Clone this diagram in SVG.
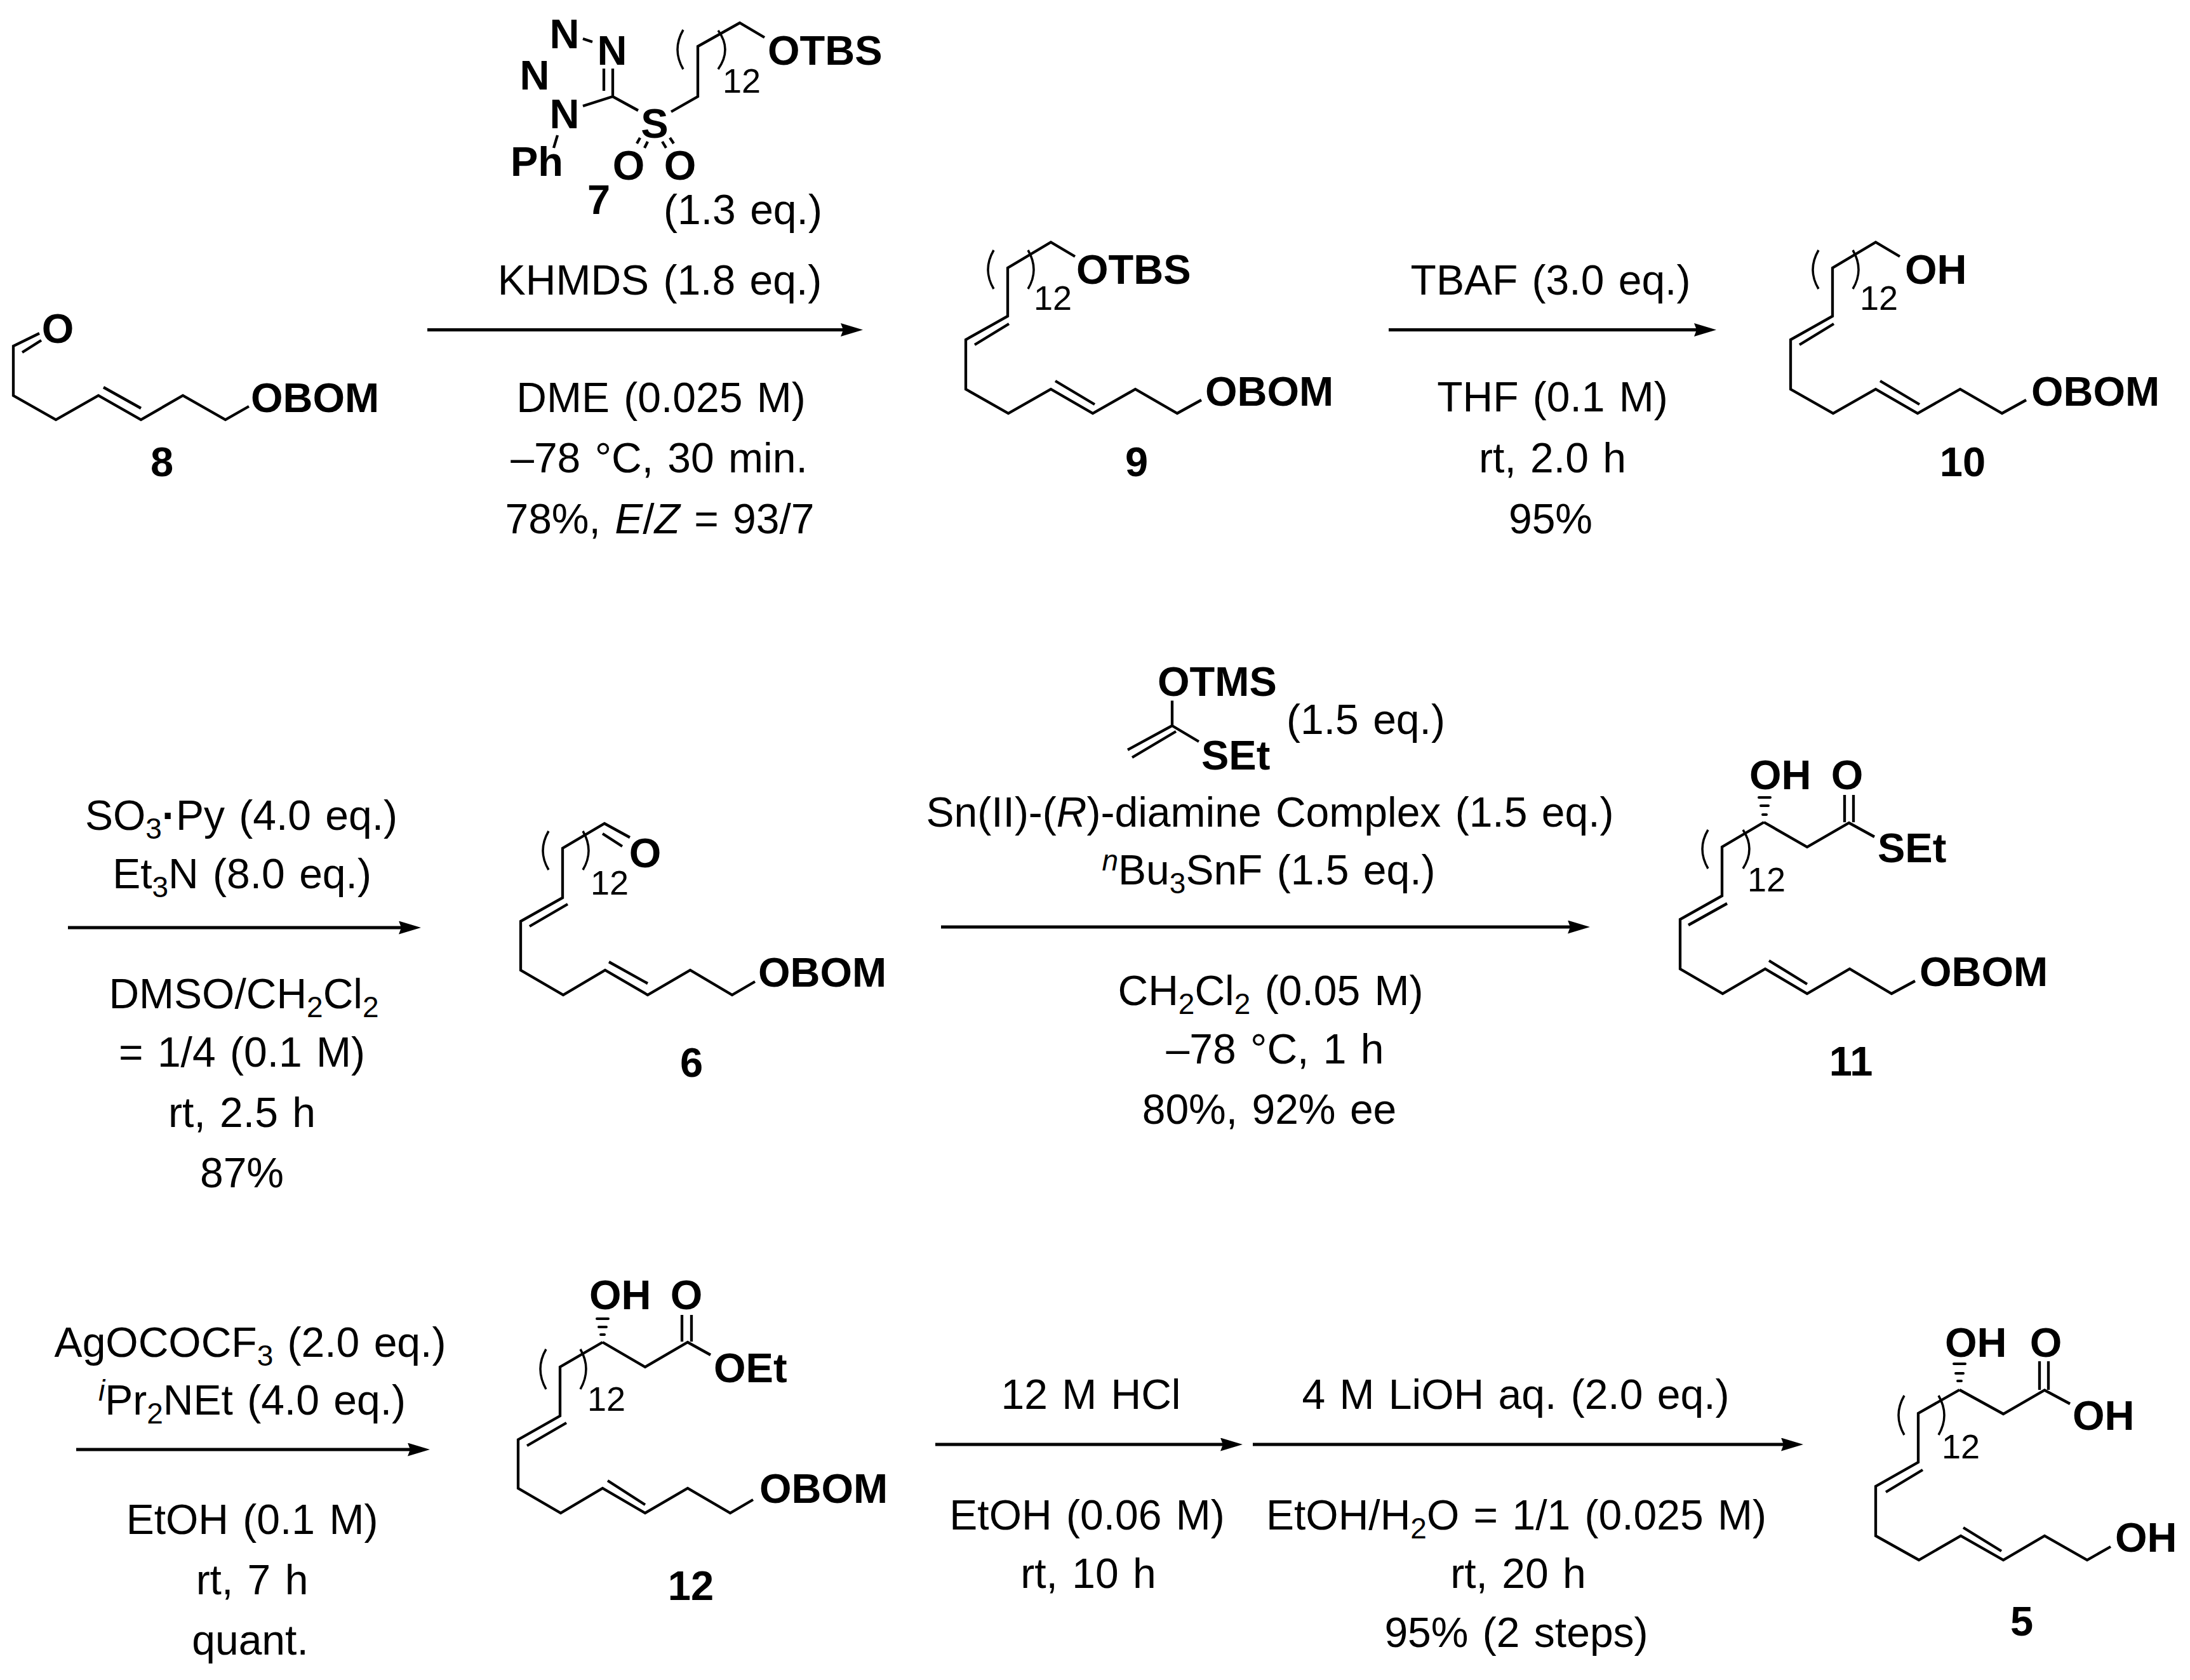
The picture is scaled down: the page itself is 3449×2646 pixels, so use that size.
<svg xmlns="http://www.w3.org/2000/svg" width="3449" height="2646" viewBox="0 0 3449 2646">
<style>
text{font-family:"Liberation Sans",Arial,sans-serif;fill:#000}
.t{font-size:66px;text-anchor:middle;word-spacing:4px}
.l{font-size:65px;font-weight:700;text-anchor:start}
.c{font-size:65px;font-weight:700;text-anchor:middle}
.n{font-size:54px;text-anchor:start}
.b{fill:none;stroke:#000;stroke-width:4.3;stroke-linejoin:miter}
.d{fill:none;stroke:#000;stroke-width:4;stroke-linecap:round}
.p{fill:none;stroke:#000;stroke-width:3.5}
.a{stroke:#000;stroke-width:5;fill:none;marker-end:url(#h)}
.u{font-size:46px}
.i{font-style:italic}
</style>
<defs>
<marker id="h" markerUnits="userSpaceOnUse" markerWidth="36" markerHeight="21" refX="25" refY="10.5" orient="auto"><path d="M35,10.5L0,0L4,10.5L0,21Z" fill="#000"/></marker>
</defs>
<g id="connectors">
<line class="a" x1="673" y1="519.5" x2="1349" y2="519.5"/>
<line class="a" x1="2187" y1="519.5" x2="2693" y2="519.5"/>
<line class="a" x1="107" y1="1461" x2="653" y2="1461"/>
<line class="a" x1="1482" y1="1460" x2="2494" y2="1460"/>
<line class="a" x1="120" y1="2283" x2="667" y2="2283"/>
<line class="a" x1="1473" y1="2275" x2="1947" y2="2275"/>
<line class="a" x1="1973" y1="2275" x2="2830" y2="2275"/>
</g>
<g id="compound-8">
<path class="b" d="M62,525L21,545V623L88,661L155,623L222,661L288,623L355,661L392,640M35,555L65,536M163,610L222,643"/>
<text class="c" x="91" y="540">O</text><text class="l" x="395" y="649">OBOM</text><text class="c" x="255" y="750">8</text>
</g>
<g id="compound-7">
<path class="b" d="M918,61L933,66M951,108V143M965,108V152M918,167L965,152L1005,174M1057,176L1099,152V73L1165,36L1204,59M878,213L872,233M1008,217L1003,226M1020,223L1015,233M1043,223L1049,233M1055,217L1061,226"/>
<path class="p" d="M1076,47Q1058,78 1076,109M1131,48Q1153,78 1131,109"/>
<text class="c" x="889" y="76">N</text><text class="c" x="964" y="102">N</text><text class="c" x="842" y="141">N</text><text class="c" x="889" y="202">N</text>
<text class="l" x="804" y="277">Ph</text><text class="c" x="1031" y="217">S</text><text class="c" x="990" y="283">O</text><text class="c" x="1071" y="283">O</text>
<text class="c" x="943" y="337">7</text><text class="l" x="1209" y="102">OTBS</text><text class="n" x="1138" y="146">12</text>
</g>
<g id="conditions-1">
<text class="t" x="1170" y="353">(1.3 eq.)</text><text class="t" x="1039" y="464">KHMDS (1.8 eq.)</text><text class="t" x="1041" y="649">DME (0.025 M)</text><text class="t" x="1038" y="744">–78 °C, 30 min.</text>
<text class="t" x="1039" y="840" word-spacing="1">78%, <tspan class="i">E</tspan>/<tspan class="i">Z</tspan> = 93/7</text>
</g>
<g id="compound-9">
<path class="b" d="M1693,404L1655,381.5L1587,422V498L1521,535V613L1588,651L1655,613L1721,651L1788,613L1854,651L1892,630M1589,510L1535,543M1662,600L1724,637"/>
<path class="p" d="M1565,394Q1547,425 1565,455M1619,394Q1637,425 1619,455"/>
<text class="l" x="1695" y="447">OTBS</text><text class="n" x="1628" y="488">12</text><text class="l" x="1898" y="639">OBOM</text><text class="c" x="1790" y="750">9</text>
</g>
<g id="conditions-2">
<text class="t" x="2442" y="464">TBAF (3.0 eq.)</text><text class="t" x="2445" y="648">THF (0.1 M)</text><text class="t" x="2445" y="744">rt, 2.0 h</text><text class="t" x="2442" y="840">95%</text>
</g>
<g id="compound-10">
<path class="b" d="M2992,404L2954,381.5L2886,422V498L2820,535V613L2887,651L2954,613L3020,651L3087,613L3153,651L3191,630M2888,510L2834,543M2961,600L3023,637"/>
<path class="p" d="M2864,394Q2846,425 2864,455M2918,394Q2936,425 2918,455"/>
<text class="l" x="3000" y="447">OH</text><text class="n" x="2929" y="488">12</text><text class="l" x="3199" y="639">OBOM</text><text class="c" x="3091" y="750">10</text>
</g>
<g id="conditions-3">
<text class="t" x="380" y="1307">SO<tspan class="u" dy="14">3</tspan><tspan dy="-14" font-weight="700">·</tspan>Py (4.0 eq.)</text>
<text class="t" x="381" y="1399">Et<tspan class="u" dy="14">3</tspan><tspan dy="-14">N (8.0 eq.)</tspan></text>
<text class="t" x="384" y="1588">DMSO/CH<tspan class="u" dy="14">2</tspan><tspan dy="-14">Cl</tspan><tspan class="u" dy="14">2</tspan></text>
<text class="t" x="381" y="1680">= 1/4 (0.1 M)</text><text class="t" x="381" y="1775">rt, 2.5 h</text><text class="t" x="381" y="1870">87%</text>
</g>
<g id="compound-6">
<path class="b" d="M992,1319L952,1297L886,1336V1414L820,1451V1528L887,1567L953,1528L1020,1567L1087,1528L1153,1567L1189,1546M949,1313L980,1333M894,1424L834,1459M959,1515L1020,1549"/>
<path class="p" d="M864,1309Q846,1340 864,1370M918,1309Q936,1340 918,1370"/>
<text class="c" x="1016" y="1366">O</text><text class="n" x="930" y="1409">12</text><text class="l" x="1194" y="1554">OBOM</text><text class="c" x="1089" y="1696">6</text>
</g>
<g id="conditions-4">
<path class="b" d="M1846,1103.5V1143L1776,1181M1852,1152L1783,1193M1846,1143L1888,1168"/>
<text class="l" x="1823" y="1096">OTMS</text><text class="l" x="1892" y="1212">SEt</text><text class="t" x="2151" y="1156">(1.5 eq.)</text>
<text class="t" x="2000" y="1302">Sn(II)-(<tspan class="i">R</tspan>)-diamine Complex (1.5 eq.)</text>
<text class="t" x="1998" y="1393"><tspan class="u i" dy="-22">n</tspan><tspan dy="22">Bu</tspan><tspan class="u" dy="14">3</tspan><tspan dy="-14">SnF (1.5 eq.)</tspan></text>
<text class="t" x="2001" y="1583">CH<tspan class="u" dy="14">2</tspan><tspan dy="-14">Cl</tspan><tspan class="u" dy="14">2</tspan><tspan dy="-14"> (0.05 M)</tspan></text>
<text class="t" x="2008" y="1675">–78 °C, 1 h</text><text class="t" x="1999" y="1770">80%, 92% ee</text>
</g>
<g id="compound-11">
<path class="b" d="M2778,1295L2712,1334V1411L2646,1448V1526L2713,1565L2780,1526L2846,1565L2913,1526L2979,1565L3016,1545M2778,1295L2846,1334L2912,1296L2952,1318M2905,1252V1295M2919,1252V1295M2720,1423L2659,1457M2786,1513L2846,1550"/>
<path class="d" d="M2776,1283h6M2773,1269h12M2770,1256h18"/>
<path class="p" d="M2690,1307Q2672,1337 2690,1368M2745,1307Q2765,1337 2745,1368"/>
<text class="l" x="2755" y="1243">OH</text><text class="c" x="2909" y="1243">O</text><text class="l" x="2957" y="1358">SEt</text><text class="n" x="2752" y="1404">12</text><text class="l" x="3023" y="1553">OBOM</text><text class="c" x="2915" y="1694">11</text>
</g>
<g id="conditions-5">
<text class="t" x="394" y="2137">AgOCOCF<tspan class="u" dy="14">3</tspan><tspan dy="-14"> (2.0 eq.)</tspan></text>
<text class="t" x="397" y="2228"><tspan class="u i" dy="-22">i</tspan><tspan dy="22">Pr</tspan><tspan class="u" dy="14">2</tspan><tspan dy="-14">NEt (4.0 eq.)</tspan></text>
<text class="t" x="397" y="2416">EtOH (0.1 M)</text><text class="t" x="397" y="2511">rt, 7 h</text><text class="t" x="394" y="2606">quant.</text>
</g>
<g id="compound-12">
<path class="b" d="M949,2114L882,2153V2230L816,2267.5V2344L883,2383L949,2344L1016,2383L1083,2344L1150,2383L1186,2362M949,2114L1016,2153L1083,2114L1119,2134M1074,2071V2113M1089,2071V2113M892,2241L830,2277M957,2332L1016,2370"/>
<path class="d" d="M946,2102h6M943,2090h12M940,2077h18"/>
<path class="p" d="M860,2125Q842,2156 860,2188M914,2125Q932,2156 914,2188"/>
<text class="l" x="928" y="2062">OH</text><text class="c" x="1081" y="2062">O</text><text class="l" x="1124" y="2177">OEt</text><text class="n" x="925" y="2222">12</text><text class="l" x="1196" y="2367">OBOM</text><text class="c" x="1088" y="2520">12</text>
</g>
<g id="conditions-6">
<text class="t" x="1718" y="2219">12 M HCl</text><text class="t" x="1712" y="2409">EtOH (0.06 M)</text><text class="t" x="1714" y="2501">rt, 10 h</text>
</g>
<g id="conditions-7">
<text class="t" x="2387" y="2219">4 M LiOH aq. (2.0 eq.)</text>
<text class="t" x="2388" y="2409">EtOH/H<tspan class="u" dy="14">2</tspan><tspan dy="-14">O = 1/1 (0.025 M)</tspan></text>
<text class="t" x="2391" y="2501">rt, 20 h</text><text class="t" x="2388" y="2594">95% (2 steps)</text>
</g>
<g id="compound-5">
<path class="b" d="M3086,2189L3021,2226V2303L2954,2341V2419L3022,2457L3088,2419L3155,2457L3220,2419L3287,2457L3324,2436M3086,2189L3155,2227L3220,2189.5L3260,2211M3212,2144V2189M3226,2144V2189M3028,2315L2970,2350M3092,2406L3152,2443"/>
<path class="d" d="M3083,2175h6M3080,2163h12M3077,2148h18"/>
<path class="p" d="M2999,2198Q2981,2229 2999,2260M3053,2198Q3071,2229 3053,2260"/>
<text class="l" x="3063" y="2137">OH</text><text class="c" x="3222" y="2137">O</text><text class="l" x="3264" y="2252">OH</text><text class="n" x="3058" y="2297">12</text><text class="l" x="3331" y="2444">OH</text><text class="c" x="3184" y="2576">5</text>
</g>
</svg>
